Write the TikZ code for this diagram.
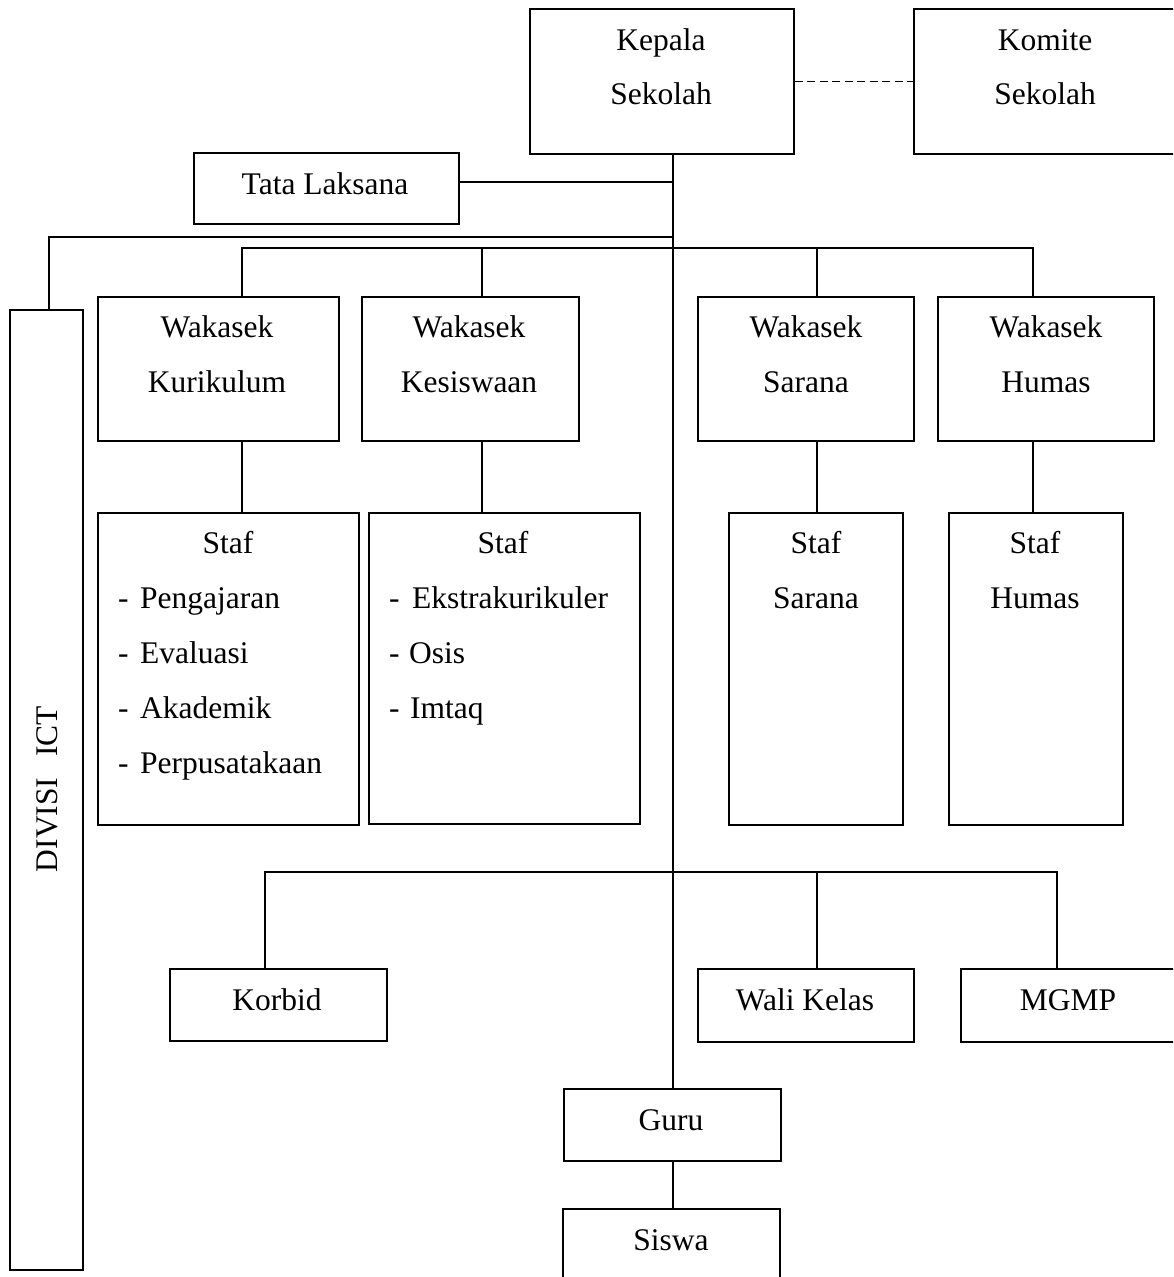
\documentclass[tikz,border=0pt]{standalone}
\usepackage{fontspec}
\setmainfont{Liberation Serif}
\usetikzlibrary{calc}
\tikzset{
  box/.style={draw=black, line width=1.8pt, rectangle, inner sep=0pt, anchor=north west, fill=none},
  txt/.style={inner sep=0pt, anchor=base, font=\fontsize{31.5}{54}\selectfont},
  txtl/.style={txt, anchor=base west},
  conn/.style={draw=black, line width=1.8pt},
  thickconn/.style={draw=black, line width=2.4pt},
  dashconn/.style={draw=black, line width=1.8pt, dash pattern=on 8pt off 4.5pt}
}
\begin{document}
\begin{tikzpicture}[x=1pt,y=-1pt]
\useasboundingbox (0,0) rectangle (1173,1277);
\clip (0,0) rectangle (1173,1277);
\fill[white] (0,0) rectangle (1173,1277);

% ---- boxes ----
\node[box, minimum width=264pt, minimum height=145pt] (kepala) at (529,8) {};
\node[box, minimum width=264pt, minimum height=145pt] (komite) at (913,8) {};
\node[box, minimum width=265pt, minimum height=71pt]  (tata)   at (193,152) {};
\node[box, minimum width=73pt,  minimum height=960pt] (divisi) at (9,309) {};
\node[box, minimum width=241pt, minimum height=144pt] (kur)    at (97,296) {};
\node[box, minimum width=217pt, minimum height=144pt] (kes)    at (361,296) {};
\node[box, minimum width=216pt, minimum height=144pt] (sar)    at (697,296) {};
\node[box, minimum width=216pt, minimum height=144pt] (hum)    at (937,296) {};
\node[box, minimum width=261pt, minimum height=312pt] (skur)   at (97,512) {};
\node[box, minimum width=271pt, minimum height=311pt] (skes)   at (368,512) {};
\node[box, minimum width=174pt, minimum height=312pt] (ssar)   at (728,512) {};
\node[box, minimum width=174pt, minimum height=312pt] (shum)   at (948,512) {};
\node[box, minimum width=217pt, minimum height=72pt]  (korbid) at (169,968) {};
\node[box, minimum width=216pt, minimum height=73pt]  (wali)   at (697,968) {};
\node[box, minimum width=216pt, minimum height=73pt]  (mgmp)   at (960,968) {};
\node[box, minimum width=217pt, minimum height=72pt]  (guru)   at (563,1088) {};
\node[box, minimum width=217pt, minimum height=100pt] (siswa)  at (562,1208) {};

% ---- texts ----
\node[txt] (tKep1) at (661,50) {Kepala};
\node[txt] (tKep2) at (661,104) {Sekolah};
\node[txt] (tKom1) at (1045,50) {Komite};
\node[txt] (tKom2) at (1045,104) {Sekolah};
\node[txt] (tTata) at (325,194) {Tata Laksana};
\node[inner sep=0pt, rotate=90, font=\fontsize{31.5}{54}\selectfont] (tDiv) at (47,789) {DIVISI\ \ \,ICT};
\node[txt] (tKur1) at (217,337) {Wakasek};
\node[txt] (tKur2) at (217,392) {Kurikulum};
\node[txt] (tKes1) at (469,337) {Wakasek};
\node[txt] (tKes2) at (469,392) {Kesiswaan};
\node[txt] (tSar1) at (806,337) {Wakasek};
\node[txt] (tSar2) at (806,392) {Sarana};
\node[txt] (tHum1) at (1046,337) {Wakasek};
\node[txt] (tHum2) at (1046,392) {Humas};

\node[txt] (tSk0) at (228,553) {Staf};
\node[txtl] (dSk1) at (118,608) {-};
\node[txtl] (tSk1) at (140,608) {Pengajaran};
\node[txtl] (dSk2) at (118,663) {-};
\node[txtl] (tSk2) at (140,663) {Evaluasi};
\node[txtl] (dSk3) at (118,718) {-};
\node[txtl] (tSk3) at (140,718) {Akademik};
\node[txtl] (dSk4) at (118,773) {-};
\node[txtl] (tSk4) at (140,773) {Perpusatakaan};

\node[txt] (tSe0) at (503,553) {Staf};
\node[txtl] (dSe1) at (389,608) {-};
\node[txtl] (tSe1) at (412,608) {Ekstrakurikuler};
\node[txtl] (dSe2) at (389,663) {-};
\node[txtl] (tSe2) at (409,663) {Osis};
\node[txtl] (dSe3) at (389,718) {-};
\node[txtl] (tSe3) at (410,718) {Imtaq};

\node[txt] (tSs1) at (816,553) {Staf};
\node[txt] (tSs2) at (816,608) {Sarana};
\node[txt] (tSh1) at (1035,553) {Staf};
\node[txt] (tSh2) at (1035,608) {Humas};

\node[txt] (tKor) at (277,1010) {Korbid};
\node[txt] (tWal) at (805,1010) {Wali Kelas};
\node[txt] (tMg)  at (1068,1010) {MGMP};
\node[txt] (tGur) at (671,1130) {Guru};
\node[txt] (tSis) at (671,1250) {Siswa};

% ---- junction coordinates ----
\coordinate (jTata) at (673,182);
\coordinate (jDiv)  at (673,237);
\coordinate (cDiv)  at (49,237);
\coordinate (jWL)   at (242,248);
\coordinate (jWR)   at (1033,248);
\coordinate (jBL)   at (265,872);
\coordinate (jBR)   at (1057,872);

% ---- connectors ----
\draw[dashconn] (kepala.east) -- (komite.west);
\draw[conn] (kepala.south -| jTata) -- (guru.north -| jTata);
\draw[conn] (tata.east |- jTata) -- (jTata);
\draw[thickconn] (jDiv) -- (cDiv) -- (divisi.north -| cDiv);
\draw[conn] (kur.north -| jWL) -- (jWL) -- (jWR) -- (hum.north -| jWR);
\draw[conn] (kes.north -| 482,0) -- (482,248);
\draw[conn] (sar.north -| 817,0) -- (817,248);
\draw[conn] (kur.south -| jWL) -- (skur.north -| jWL);
\draw[conn] (kes.south -| 482,0) -- (skes.north -| 482,0);
\draw[conn] (sar.south -| 817,0) -- (ssar.north -| 817,0);
\draw[conn] (hum.south -| jWR) -- (shum.north -| jWR);
\draw[conn] (korbid.north -| jBL) -- (jBL) -- (jBR) -- (mgmp.north -| jBR);
\draw[conn] (wali.north -| 817,0) -- (817,872);
\draw[conn] (guru.south -| jTata) -- (siswa.north -| jTata);
\end{tikzpicture}
\end{document}
